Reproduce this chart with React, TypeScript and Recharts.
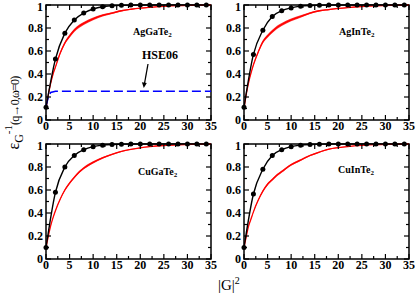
import React from "react";
import { ComposedChart, Line, Area, XAxis, YAxis, ReferenceArea } from "recharts";

// red (noisy) curve, sampled along |G|^2
const redX = [0, 0.5, 1, 1.5, 2, 3, 4, 5, 6, 7, 8, 10, 12, 14, 16, 18, 20, 22, 25, 28, 31, 35];
// half width of the noise band around the red curve (upper row / lower row panels)
const spreadTop = [0, 0.003, 0.005, 0.006, 0.008, 0.011, 0.013, 0.014, 0.014, 0.014, 0.013, 0.012, 0.01, 0.008, 0.006, 0.005, 0.004, 0.003, 0.002, 0.001, 0.001, 0];
const spreadBottom = [0, 0.002, 0.003, 0.004, 0.005, 0.007, 0.009, 0.01, 0.01, 0.01, 0.01, 0.009, 0.008, 0.006, 0.005, 0.004, 0.003, 0.002, 0.002, 0.001, 0.001, 0];
const agGaTeRed = [0.1, 0.22, 0.32, 0.4, 0.46, 0.58, 0.67, 0.73, 0.78, 0.815, 0.84, 0.88, 0.91, 0.93, 0.95, 0.963, 0.973, 0.98, 0.988, 0.994, 0.997, 1.0];
const agInTeRed = [0.1, 0.23, 0.33, 0.41, 0.48, 0.59, 0.68, 0.73, 0.77, 0.805, 0.83, 0.87, 0.9, 0.93, 0.95, 0.96, 0.97, 0.978, 0.987, 0.993, 0.997, 1.0];
const cuGaTeRed = [0.1, 0.2, 0.29, 0.36, 0.42, 0.52, 0.6, 0.66, 0.71, 0.755, 0.79, 0.84, 0.88, 0.91, 0.935, 0.953, 0.967, 0.977, 0.987, 0.993, 0.997, 1.0];
const cuInTeRed = [0.1, 0.2, 0.29, 0.35, 0.41, 0.51, 0.59, 0.65, 0.69, 0.73, 0.76, 0.82, 0.86, 0.9, 0.93, 0.955, 0.968, 0.978, 0.988, 0.994, 0.997, 1.0];

// black curve with symbols
const dotX = [0, 2, 4, 6, 8, 10, 12, 14, 16, 18, 20, 22, 24, 26, 28, 30, 32, 34];
const agGaTeDots = [0.11, 0.53, 0.755, 0.87, 0.93, 0.965, 0.985, 0.993, 0.997, 0.999, 1, 1, 1, 1, 1, 1, 1, 1];
const agInTeDots = [0.11, 0.57, 0.78, 0.9, 0.95, 0.975, 0.99, 0.996, 0.998, 1, 1, 1, 1, 1, 1, 1, 1, 1];
const cuGaTeDots = [0.1, 0.58, 0.8, 0.9, 0.95, 0.977, 0.99, 0.996, 0.998, 1, 1, 1, 1, 1, 1, 1, 1, 1];
const cuInTeDots = [0.1, 0.565, 0.78, 0.9, 0.95, 0.977, 0.99, 0.996, 0.998, 1, 1, 1, 1, 1, 1, 1, 1, 1];

// HSE06 (blue dashed), AgGaTe2 panel only
const hseX = [0, 0.5, 1, 2, 35];
const hseY = [0.12, 0.2, 0.24, 0.25, 0.25];

const xTicks = [0, 2.5, 5, 7.5, 10, 12.5, 15, 17.5, 20, 22.5, 25, 27.5, 30, 32.5, 35];
const yTicks = [0, 0.1, 0.2, 0.3, 0.4, 0.5, 0.6, 0.7, 0.8, 0.9, 1];

const SERIF = '"Liberation Serif", "Times New Roman", serif';
const PLOT_TOP = 5;
const PLOT_LEFT = 46;
const PLOT_W = 165;

// ticks point inwards, and are mirrored on the top / right edges
const XTick = (props: any) => {
  const { x, y, payload } = props;
  const v = payload.value;
  const major = v % 5 === 0;
  const len = major ? 5 : 3;
  return (
    <g>
      <line x1={x} y1={y} x2={x} y2={y - len} stroke="#000" strokeWidth={1.2} />
      <line x1={x} y1={PLOT_TOP} x2={x} y2={PLOT_TOP + len} stroke="#000" strokeWidth={1.2} />
      {major && (
        <text x={x} y={y + 9.5} textAnchor="middle" fontFamily={SERIF} fontWeight="bold" fontSize={12} fill="#000">
          {v}
        </text>
      )}
    </g>
  );
};

const YTick = (props: any) => {
  const { x, y, payload } = props;
  const v = payload.value;
  const major = Math.round(v * 10) % 2 === 0;
  const len = major ? 5 : 3;
  const right = PLOT_LEFT + PLOT_W;
  // keep the top "1" inside the svg box
  const ty = Math.max(y + 4, 11);
  return (
    <g>
      <line x1={x} y1={y} x2={x + len} y2={y} stroke="#000" strokeWidth={1.2} />
      <line x1={right} y1={y} x2={right - len} y2={y} stroke="#000" strokeWidth={1.2} />
      {major && (
        <text x={x - 3} y={ty} textAnchor="end" fontFamily={SERIF} fontWeight="bold" fontSize={12} fill="#000">
          {String(v)}
        </text>
      )}
    </g>
  );
};

interface PanelProps {
  red: number[];
  spread: number[];
  dots: number[];
  hse?: boolean;
  left: number;
  top: number;
}

function Panel({ red, spread, dots, hse, left, top }: PanelProps) {
  const redRows = redX.map((x, i) => ({ x, v: red[i], band: [red[i] - spread[i], red[i] + spread[i]] }));
  const dotRows = dotX.map((x, i) => ({ x, v: dots[i] }));
  const hseRows = hseX.map((x, i) => ({ x, v: hseY[i] }));
  return (
    <div style={{ position: "absolute", left, top }}>
      <ComposedChart width={219} height={140} margin={{ top: PLOT_TOP, right: 8, bottom: 0, left: 0 }}>
        <XAxis
          dataKey="x"
          type="number"
          domain={[0, 35]}
          ticks={xTicks}
          interval={0}
          height={20}
          axisLine={false}
          tickLine={false}
          tickSize={0}
          tickMargin={0}
          tick={XTick}
        />
        <YAxis
          type="number"
          domain={[0, 1]}
          ticks={yTicks}
          interval={0}
          width={PLOT_LEFT}
          axisLine={false}
          tickLine={false}
          tickSize={0}
          tickMargin={0}
          tick={YTick}
        />
        <Area
          data={redRows}
          dataKey="band"
          type="monotone"
          fill="#ff0000"
          fillOpacity={0.8}
          stroke="none"
          isAnimationActive={false}
        />
        <Line data={redRows} dataKey="v" type="monotone" stroke="#ff0000" strokeWidth={1.3} dot={false} isAnimationActive={false} />
        {hse && (
          <Line
            data={hseRows}
            dataKey="v"
            type="linear"
            stroke="#0000ff"
            strokeWidth={1.5}
            strokeDasharray="9 4"
            dot={false}
            isAnimationActive={false}
          />
        )}
        <Line
          data={dotRows}
          dataKey="v"
          type="monotone"
          stroke="#000"
          strokeWidth={1.4}
          dot={{ r: 2.5, fill: "#000", stroke: "#000", strokeWidth: 0 }}
          isAnimationActive={false}
        />
        <ReferenceArea x1={0} x2={35} y1={0} y2={1} fill="none" stroke="#000" strokeWidth={1.5} />
      </ComposedChart>
    </div>
  );
}

const labelStyle = { fontFamily: SERIF, fontWeight: "bold" as const, fill: "#000" };

export default function App() {
  return (
    <div style={{ position: "absolute", left: 0, top: 0, width: 415, height: 293, overflow: "hidden", background: "#fff" }}>
      <Panel red={agGaTeRed} spread={spreadTop} dots={agGaTeDots} hse left={0} top={0} />
      <Panel red={agInTeRed} spread={spreadTop} dots={agInTeDots} left={198} top={0} />
      <Panel red={cuGaTeRed} spread={spreadBottom} dots={cuGaTeDots} left={0} top={139} />
      <Panel red={cuInTeRed} spread={spreadBottom} dots={cuInTeDots} left={198} top={139} />
      <svg width={415} height={293} style={{ position: "absolute", left: 0, top: 0, pointerEvents: "none" }}>
        <text x={133} y={35} fontSize={10} {...labelStyle}>
          AgGaTe<tspan fontSize={7} dy={2}>2</tspan>
        </text>
        <text x={339} y={35} fontSize={10} {...labelStyle}>
          AgInTe<tspan fontSize={7} dy={2}>2</tspan>
        </text>
        <text x={138} y={175} fontSize={10} {...labelStyle}>
          CuGaTe<tspan fontSize={7} dy={2}>2</tspan>
        </text>
        <text x={338} y={173} fontSize={10} {...labelStyle}>
          CuInTe<tspan fontSize={7} dy={2}>2</tspan>
        </text>
        <text x={142} y={58.5} fontSize={12} {...labelStyle}>
          HSE06
        </text>
        <line x1={148} y1={64} x2={144.6} y2={83} stroke="#000" strokeWidth={1.3} />
        <polygon points="143.8,88 141.9,82.2 146.8,83" fill="#000" />
        <text
          transform="translate(19,113) rotate(-90)"
          textAnchor="middle"
          fontFamily={SERIF}
          fontSize={12}
          fill="#000"
        >
          <tspan fontSize={16}>ε</tspan>
          <tspan fontSize={12} dy={4}>G</tspan>
          <tspan fontSize={11} dy={-11}>-1</tspan>
          <tspan dy={7} letterSpacing={-0.8}>(q→0,ω=0)</tspan>
        </text>
        <text x={218} y={290} fontFamily={SERIF} fontSize={15} fill="#000">
          |G|<tspan fontSize={10} dy={-6}>2</tspan>
        </text>
      </svg>
    </div>
  );
}
